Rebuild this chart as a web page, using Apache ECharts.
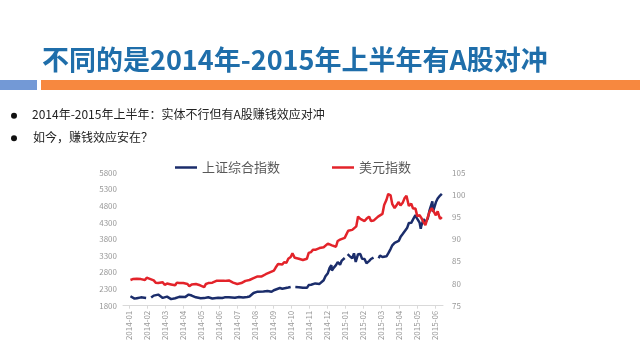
<!DOCTYPE html>
<html><head><meta charset="utf-8">
<script src="https://cdn.jsdelivr.net/npm/echarts@6/dist/echarts.min.js"></script>
<style>html,body{margin:0;padding:0;background:#fff}#c{width:640px;height:360px}</style>
</head><body><div id="c"></div>
<script>
const titleText = '不同的是2014年-2015年上半年有A股对冲';
const bulletTexts = ['2014年-2015年上半年：实体不行但有A股赚钱效应对冲', '如今，赚钱效应安在？'];
const seriesNames = ['上证综合指数', '美元指数'];
const monthLabels = ['2014-01','2014-02','2014-03','2014-04','2014-05','2014-06','2014-07','2014-08','2014-09','2014-10','2014-11','2014-12','2015-01','2015-02','2015-03','2015-04','2015-05','2015-06'];
const leftTicks = [1800, 2300, 2800, 3300, 3800, 4300, 4800, 5300, 5800];
const rightTicks = [75, 80, 85, 90, 95, 100, 105];

const sseDates = ['2014-01-03','2014-01-10','2014-01-14','2014-01-17','2014-01-21','2014-01-24','2014-01-30','2014-02-03','2014-02-07','2014-02-11','2014-02-14','2014-02-18','2014-02-21','2014-02-25','2014-02-28',
'2014-03-04','2014-03-07','2014-03-11','2014-03-14','2014-03-18','2014-03-21','2014-03-25','2014-03-28','2014-04-04','2014-04-10','2014-04-15','2014-04-18','2014-04-22','2014-04-25','2014-04-30','2014-05-06','2014-05-09',
'2014-05-13','2014-05-16','2014-05-20','2014-05-23','2014-05-30','2014-06-06','2014-06-10','2014-06-13','2014-06-17','2014-06-20','2014-06-27','2014-07-04','2014-07-11','2014-07-18',
'2014-07-22','2014-07-25','2014-07-29','2014-08-01','2014-08-05','2014-08-08','2014-08-15','2014-08-22','2014-08-29','2014-09-02','2014-09-05','2014-09-12','2014-09-16','2014-09-19','2014-09-26',
'2014-09-30','2014-10-03','2014-10-08','2014-10-10','2014-10-14','2014-10-17','2014-10-21','2014-10-24','2014-10-28','2014-10-31','2014-11-04','2014-11-07','2014-11-11','2014-11-14','2014-11-18','2014-11-21','2014-11-25','2014-11-28',
'2014-12-02','2014-12-05','2014-12-08','2014-12-09','2014-12-12','2014-12-16','2014-12-19','2014-12-23','2014-12-26','2014-12-31','2015-01-01','2015-01-05','2015-01-09','2015-01-13','2015-01-16','2015-01-19','2015-01-23',
'2015-01-27','2015-01-30','2015-02-03','2015-02-06','2015-02-10','2015-02-13','2015-02-17','2015-02-20','2015-02-25','2015-02-27','2015-03-03','2015-03-06','2015-03-10','2015-03-13','2015-03-17','2015-03-20','2015-03-24','2015-03-27',
'2015-03-31','2015-04-03','2015-04-07','2015-04-10','2015-04-14','2015-04-17','2015-04-21','2015-04-24','2015-04-28','2015-04-30','2015-05-05','2015-05-07','2015-05-08','2015-05-12','2015-05-15','2015-05-19','2015-05-22','2015-05-27','2015-05-28','2015-05-29','2015-06-02','2015-06-05','2015-06-09','2015-06-12'];
const sseValues = [2083,2013,2027,2004,2051,2055,2033,null,2044,2103,2115,2134,2113,2034,2056,
2072,2057,1998,2004,2025,2047,2067,2046,2058,2134,2106,2097,2052,2036,2026,2028,2011,
2052,2026,2019,2034,2039,2030,2052,2070,2055,2024,2036,2059,2047,2059,
2076,2127,2183,2185,2222,2194,2226,2241,2217,2266,2326,2331,2308,2329,2347,
2364,null,2363,2374,2357,2341,2339,2302,2337,2420,2431,2418,2470,2478,2456,2487,2567,2683,
2779,2938,3020,2856,2938,3021,3108,3032,3157,3235,null,3351,3285,3223,3376,3116,3351,
3352,3210,3204,3076,3141,3204,3247,null,3228,3310,3264,3241,3286,3373,3503,3617,3692,3691,
3748,3863,3961,3958,4135,4287,4293,4394,4527,4442,4298,4112,4205,4401,4308,4417,4657,4941,4620,4611,4910,5023,5113,5166];

const usdDates = ['2014-01-03','2014-01-07','2014-01-10','2014-01-14','2014-01-17','2014-01-21','2014-01-24','2014-01-28','2014-01-31','2014-02-04','2014-02-07','2014-02-11','2014-02-14','2014-02-18','2014-02-21','2014-02-25','2014-02-28',
'2014-03-04','2014-03-07','2014-03-11','2014-03-14','2014-03-18','2014-03-21','2014-03-25','2014-03-28','2014-04-01','2014-04-04','2014-04-08','2014-04-11','2014-04-15','2014-04-18','2014-04-22','2014-04-25','2014-04-29','2014-05-02','2014-05-06','2014-05-09',
'2014-05-13','2014-05-16','2014-05-20','2014-05-23','2014-05-27','2014-05-30','2014-06-03','2014-06-06','2014-06-10','2014-06-13','2014-06-17','2014-06-20','2014-06-24','2014-06-27','2014-07-01','2014-07-04','2014-07-08','2014-07-11','2014-07-15','2014-07-18',
'2014-07-22','2014-07-25','2014-07-29','2014-08-01','2014-08-05','2014-08-08','2014-08-12','2014-08-15','2014-08-19','2014-08-22','2014-08-26','2014-08-29','2014-09-02','2014-09-05','2014-09-09','2014-09-12','2014-09-16','2014-09-19','2014-09-23','2014-09-26',
'2014-09-30','2014-10-03','2014-10-07','2014-10-10','2014-10-14','2014-10-17','2014-10-21','2014-10-24','2014-10-28','2014-10-31','2014-11-04','2014-11-07','2014-11-11','2014-11-14','2014-11-18','2014-11-21','2014-11-25','2014-11-28',
'2014-12-02','2014-12-05','2014-12-09','2014-12-12','2014-12-16','2014-12-19','2014-12-23','2014-12-26','2014-12-31','2015-01-06','2015-01-09','2015-01-13','2015-01-16','2015-01-20','2015-01-23',
'2015-01-27','2015-01-30','2015-02-03','2015-02-06','2015-02-10','2015-02-13','2015-02-17','2015-02-20','2015-02-24','2015-02-27','2015-03-03','2015-03-06','2015-03-10','2015-03-13','2015-03-17','2015-03-20','2015-03-24','2015-03-27',
'2015-03-31','2015-04-03','2015-04-07','2015-04-10','2015-04-13','2015-04-17','2015-04-21','2015-04-24','2015-04-28','2015-05-01','2015-05-05','2015-05-08','2015-05-12','2015-05-15','2015-05-19','2015-05-22','2015-05-26','2015-05-29','2015-06-02','2015-06-05','2015-06-09','2015-06-12'];
const usdValues = [80.8,81.0,80.7,81.1,81.2,81.0,80.6,80.8,81.3,81.1,80.7,80.7,80.2,80.1,80.2,80.3,79.7,
80.0,79.7,79.8,79.4,79.6,80.2,80.1,80.2,80.1,80.4,79.9,79.4,79.8,79.8,79.9,79.8,79.6,79.5,79.2,79.9,
80.1,80.0,80.2,80.4,80.6,80.4,80.6,80.5,80.6,80.6,80.7,80.4,80.2,80.1,79.9,80.2,80.1,80.1,80.6,80.6,
80.8,81.0,81.2,81.4,81.6,81.4,81.6,81.4,82.1,82.3,82.5,82.7,82.9,83.6,84.4,84.3,84.3,84.8,84.7,85.6,
86.0,86.8,85.8,85.9,85.6,85.3,85.3,85.7,85.6,86.9,87.1,87.6,87.6,87.6,88.0,88.0,88.2,88.4,
89.0,89.4,88.6,88.4,88.3,89.6,89.9,90.0,90.3,91.9,91.9,92.1,92.5,92.9,95.1,
94.6,94.8,94.1,94.6,95.1,94.1,94.2,94.3,95.1,95.3,95.7,97.7,98.9,100.2,99.9,97.9,97.0,97.3,
98.4,97.6,98.3,99.3,99.8,97.5,98.0,96.9,96.9,95.2,95.4,94.8,93.8,93.2,94.9,96.1,97.0,96.9,95.4,96.3,94.6,95.0];

function monthIndex(d) {
  const p = d.split('-').map(Number);
  const dim = new Date(p[0], p[1], 0).getDate();
  return (p[0] - 2014) * 12 + (p[1] - 1) + (p[2] - 1) / dim;
}
const ssePoints = sseDates.map((d, i) => [monthIndex(d), sseValues[i]]);
const usdPoints = usdDates.map((d, i) => [monthIndex(d), usdValues[i]]);
const monthTicks = monthLabels.map((_, i) => i);

const FONT = '"Noto Sans CJK SC","Noto Sans",sans-serif';
const chart = echarts.init(document.getElementById('c'), null, {renderer: 'canvas'});
chart.setOption({
  backgroundColor: '#ffffff',
  animation: false,
  graphic: [
    {type: 'text', left: 42, top: 46, style: {text: titleText, font: 'bold 27px ' + FONT, fill: '#1f6eaa'}},
    {type: 'rect', shape: {x: 0, y: 80, width: 37, height: 10}, style: {fill: '#7399d6'}},
    {type: 'rect', shape: {x: 41, y: 80, width: 599, height: 10}, style: {fill: '#f7883f'}},
    {type: 'circle', shape: {cx: 14, cy: 115.7, r: 3}, style: {fill: '#111'}},
    {type: 'circle', shape: {cx: 14, cy: 138.3, r: 3}, style: {fill: '#111'}},
    {type: 'text', left: 32, top: 108, style: {text: bulletTexts[0], font: '12px ' + FONT, fill: '#222'}},
    {type: 'text', left: 33, top: 131, style: {text: bulletTexts[1], font: '12px ' + FONT, fill: '#222'}}
  ],
  legend: {
    left: 170, top: 156, itemWidth: 22, itemHeight: 2.5, itemGap: 52, icon: 'rect',
    textStyle: {fontFamily: FONT, fontSize: 13, color: '#595959'},
    data: seriesNames
  },
  grid: {left: 123, right: 197, top: 172.7, bottom: 54.3},
  xAxis: {
    type: 'value', min: -0.35, max: 17.43,
    axisLine: {show: true, lineStyle: {color: '#d9d9d9', width: 1}},
    axisTick: {show: true, customValues: monthTicks, length: 3, lineStyle: {color: '#d9d9d9'}},
    splitLine: {show: false},
    axisLabel: {customValues: monthTicks, rotate: 90, margin: 5, fontSize: 8, color: '#999', fontFamily: FONT,
      formatter: v => monthLabels[Math.round(v)]}
  },
  yAxis: [
    {type: 'value', min: 1800, max: 5800, position: 'left',
      axisLine: {show: false}, axisTick: {show: false}, splitLine: {show: false},
      axisLabel: {customValues: leftTicks, margin: 6, fontSize: 8, color: '#999', fontFamily: FONT, formatter: v => String(v)}},
    {type: 'value', min: 75, max: 105, interval: 5, position: 'right',
      axisLine: {show: false}, axisTick: {show: false}, splitLine: {show: false},
      axisLabel: {customValues: rightTicks, margin: 9, fontSize: 8, color: '#999', fontFamily: FONT, formatter: v => String(v)}}
  ],
  series: [
    {name: seriesNames[0], type: 'line', yAxisIndex: 0, data: ssePoints, showSymbol: false, connectNulls: false,
      lineStyle: {color: '#1b2d6b', width: 2.5}, itemStyle: {color: '#1b2d6b'}},
    {name: seriesNames[1], type: 'line', yAxisIndex: 1, data: usdPoints, showSymbol: false,
      lineStyle: {color: '#e3232a', width: 2.5}, itemStyle: {color: '#e3232a'}}
  ]
});
</script></body></html>
